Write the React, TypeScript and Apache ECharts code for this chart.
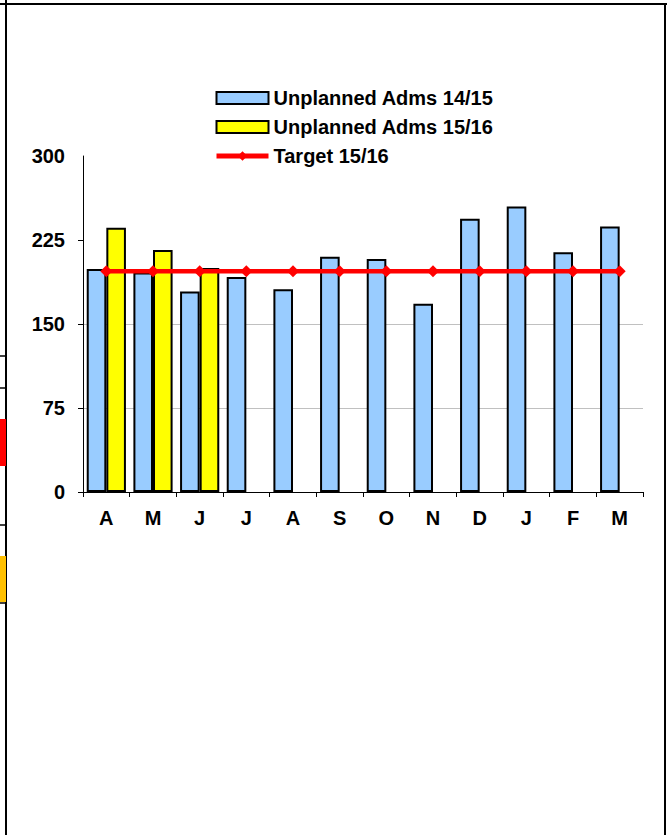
import React, { useEffect, useRef } from "react";
import * as echarts from "echarts";

// Financial-year months, April to March
const months = ["A", "M", "J", "J", "A", "S", "O", "N", "D", "J", "F", "M"];

// Unplanned admissions per month
const adms1415 = [199, 196, 179, 192, 181, 210, 208, 168, 244, 255, 214, 237];
const adms1516: (number | null)[] = [236, 216, 200, null, null, null, null, null, null, null, null, null];
const target1516 = [197, 197, 197, 197, 197, 197, 197, 197, 197, 197, 197, 197];

const yTicks = [0, 75, 150, 225];
const yMax = 300;
const yLineTop = 285.7;

const FONT = '"Liberation Sans", Arial, sans-serif';

export default function App() {
  const ref = useRef<HTMLDivElement>(null);

  useEffect(() => {
    if (!ref.current) return;
    const chart = echarts.init(ref.current, undefined, { renderer: "svg" });

    const labelStyle = {
      color: "#000",
      fontFamily: FONT,
      fontWeight: "bold" as const,
      fontSize: 20,
    };

    chart.setOption({
      animation: false,
      backgroundColor: "#fff",
      grid: { left: 83, right: 24, top: 156, bottom: 343, containLabel: false },
      legend: {
        orient: "vertical",
        left: 214,
        top: 88,
        itemWidth: 52,
        itemHeight: 12,
        itemGap: 9,
        padding: 0,
        textStyle: { ...labelStyle, lineHeight: 20, padding: [0, 0, 0, 0] },
        data: [
          { name: "Unplanned Adms 14/15", icon: "rect", itemStyle: { borderColor: "#000", borderWidth: 2 } },
          { name: "Unplanned Adms 15/16", icon: "rect", itemStyle: { borderColor: "#000", borderWidth: 2 } },
          {
            name: "Target 15/16",
            lineStyle: { color: "#FF0000", width: 5 },
            itemStyle: { color: "#FF0000" },
          },
        ],
      },
      xAxis: {
        type: "category",
        data: months,
        axisLine: { lineStyle: { color: "#000", width: 1 } },
        axisTick: { show: true, length: 5, lineStyle: { color: "#000" } },
        axisLabel: { ...labelStyle, margin: 16 },
        splitLine: { show: false },
      },
      yAxis: [
        {
          type: "value",
          min: 0,
          max: yMax,
          interval: 75,
          axisLine: { show: false },
          axisTick: { show: true, length: 5, customValues: yTicks, lineStyle: { color: "#000" } },
          axisLabel: { ...labelStyle, margin: 18 },
          splitLine: { show: true, showMinLine: false, showMaxLine: false, lineStyle: { color: "#c0c0c0", width: 1 } },
        },
        {
          type: "value",
          min: 0,
          max: yLineTop,
          position: "left",
          offset: 0,
          axisLine: { show: true, onZero: false, lineStyle: { color: "#000", width: 1 } },
          axisTick: { show: false },
          axisLabel: { show: false },
          splitLine: { show: false },
        },
      ],
      series: [
        {
          name: "Unplanned Adms 14/15",
          type: "bar",
          data: adms1415,
          barGap: "0%",
          barCategoryGap: "16%",
          itemStyle: { color: "#99CCFF", borderColor: "#000", borderWidth: 2 },
        },
        {
          name: "Unplanned Adms 15/16",
          type: "bar",
          data: adms1516,
          barGap: "0%",
          barCategoryGap: "16%",
          itemStyle: { color: "#FFFF00", borderColor: "#000", borderWidth: 2 },
        },
        {
          name: "Target 15/16",
          type: "line",
          data: target1516,
          symbol: "diamond",
          symbolSize: 12,
          lineStyle: { color: "#FF0000", width: 4.5 },
          itemStyle: { color: "#FF0000" },
          z: 5,
        },
      ],
      graphic: [
        // page frame
        { type: "line", shape: { x1: 0, y1: 4, x2: 667, y2: 4 }, style: { stroke: "#000", lineWidth: 2 } },
        { type: "line", shape: { x1: 6, y1: 0, x2: 6, y2: 835 }, style: { stroke: "#000", lineWidth: 2 } },
        { type: "line", shape: { x1: 665, y1: 4, x2: 665, y2: 835 }, style: { stroke: "#000", lineWidth: 2 } },
        // neighbouring cell edges on the left margin
        { type: "line", shape: { x1: 0, y1: 356, x2: 6, y2: 356 }, style: { stroke: "#000", lineWidth: 1.5 } },
        { type: "line", shape: { x1: 0, y1: 388, x2: 6, y2: 388 }, style: { stroke: "#000", lineWidth: 1.5 } },
        { type: "rect", shape: { x: 0, y: 419, width: 6, height: 47 }, style: { fill: "#FF0000" } },
        { type: "line", shape: { x1: 0, y1: 525, x2: 6, y2: 525 }, style: { stroke: "#000", lineWidth: 1.5 } },
        { type: "rect", shape: { x: 0, y: 556, width: 6, height: 46 }, style: { fill: "#FFC000" } },
        { type: "line", shape: { x1: 0, y1: 603, x2: 6, y2: 603 }, style: { stroke: "#000", lineWidth: 1.5 } },
      ],
    });

    return () => chart.dispose();
  }, []);

  return (
    <div
      ref={ref}
      style={{ position: "absolute", left: 0, top: 0, width: 667, height: 835 }}
    />
  );
}
